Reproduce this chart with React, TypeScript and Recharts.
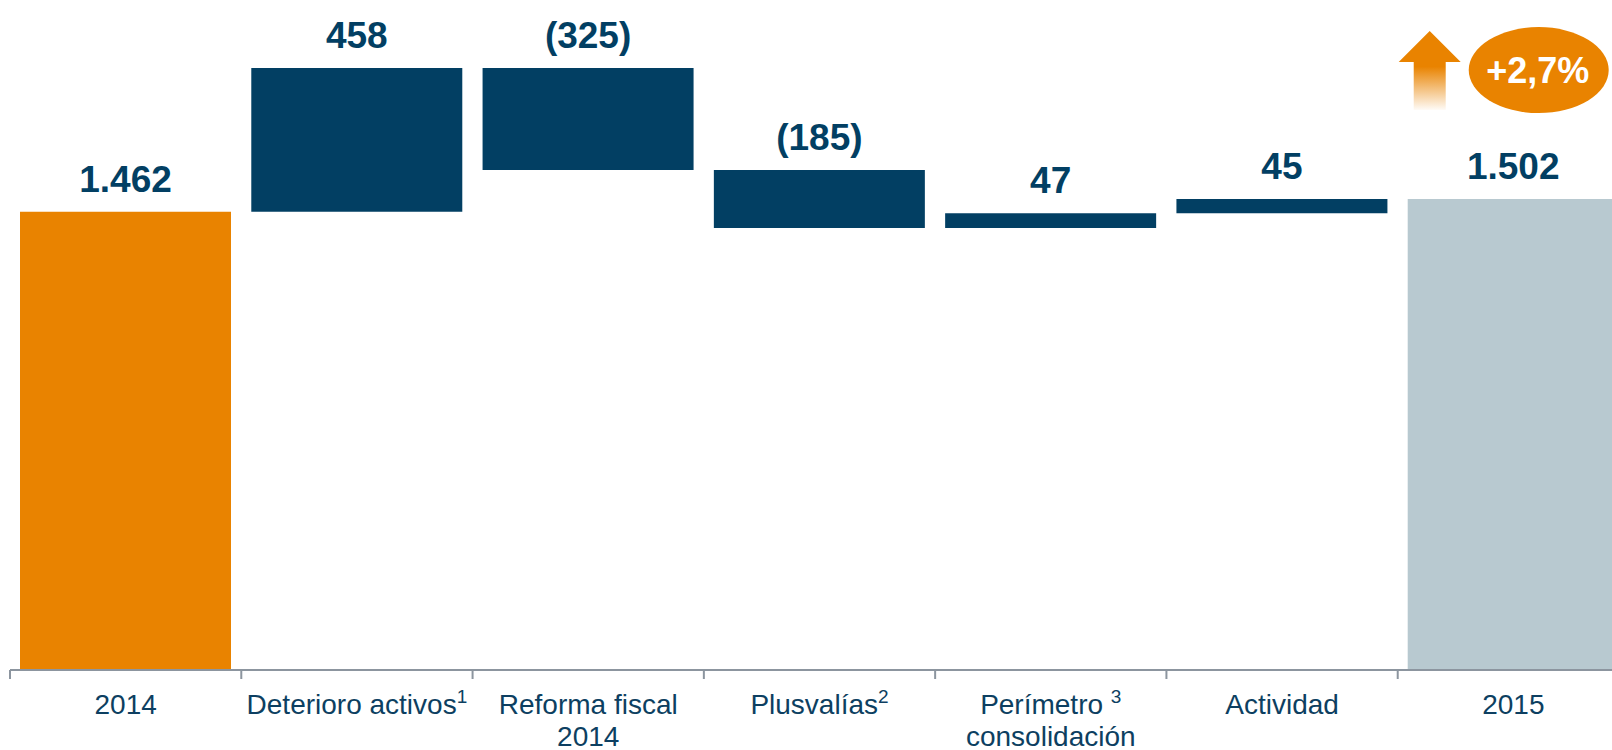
import { BarChart, Bar, XAxis, YAxis, Cell, LabelList } from "recharts";

const categories = [
  "2014",
  "Deterioro activos",
  "Reforma fiscal 2014",
  "Plusvalías",
  "Perímetro consolidación",
  "Actividad",
  "2015",
];
// first and last are totals, the rest are changes
const values = [1462, 458, -325, -185, 47, 45, 1502];
const valueLabels = ["1.462", "458", "(325)", "(185)", "47", "45", "1.502"];
const tickLines = [
  ["2014"],
  ["Deterioro activos"],
  ["Reforma fiscal", "2014"],
  ["Plusvalías"],
  ["Perímetro", "consolidación"],
  ["Actividad"],
  ["2015"],
];
const notes = ["", "1", "", "2", "3", "", ""];
const noteGap = ["", "", "", "", " ", "", ""];
const growthLabel = "+2,7%";

const NAVY = "#023F63";
const ORANGE = "#E98300";
const GREY = "#B8C9D0";
const AXIS = "#8C959F";
const FONT = "'Liberation Sans', Arial, Helvetica, sans-serif";

const CHART_W = 1629;
const CHART_H = 750;
const AXIS_H = 30;
const MARGIN = { top: 43, right: 0, left: 10, bottom: 80 - AXIS_H };
const BAND = (CHART_W - MARGIN.left - MARGIN.right) / categories.length;
const PLOT_BOTTOM = CHART_H - MARGIN.bottom - AXIS_H;

const rows = (() => {
  let running = 0;
  return categories.map((name, i) => {
    const isTotal = i === 0 || i === categories.length - 1;
    let range: [number, number];
    if (isTotal) {
      range = [0, values[i]];
      running = values[i];
    } else {
      const next = running + values[i];
      range = [Math.min(running, next), Math.max(running, next)];
      running = next;
    }
    return { name, range, label: valueLabels[i] };
  });
})();

const colors = categories.map((_, i) =>
  i === 0 ? ORANGE : i === categories.length - 1 ? GREY : NAVY
);

const CategoryTick = (props: any) => {
  const { x, payload } = props;
  const i = payload.index;
  const lines = tickLines[i] || [payload.value];
  const left = x - BAND / 2;
  return (
    <g>
      <line
        x1={left}
        x2={left}
        y1={PLOT_BOTTOM}
        y2={PLOT_BOTTOM + 9}
        stroke={AXIS}
        strokeWidth={2}
      />
      {lines.map((ln, j) => (
        <text
          key={j}
          x={x}
          y={PLOT_BOTTOM + 44 + j * 32}
          textAnchor="middle"
          fill="#0D3F61"
          fontFamily={FONT}
          fontSize={28}
        >
          {ln}
          {j === 0 && notes[i] ? (
            <>
              {noteGap[i]}
              <tspan fontSize={19} dy={-11}>
                {notes[i]}
              </tspan>
            </>
          ) : null}
        </text>
      ))}
    </g>
  );
};

const ValueLabel = (props: any) => {
  const { x, y, width, value, index } = props;
  const cx = x + width / 2;
  const isLast =
    index === categories.length - 1 ||
    value === valueLabels[valueLabels.length - 1];
  return (
    <g>
      <text
        x={cx}
        y={y - 20}
        textAnchor="middle"
        fill={NAVY}
        fontFamily={FONT}
        fontWeight="bold"
        fontSize={37}
      >
        {value}
      </text>
      {isLast ? (
        <g>
          <defs>
            <linearGradient id="arrowFade" x1="0" y1="0" x2="0" y2="1">
              <stop offset="0%" stopColor={ORANGE} stopOpacity={1} />
              <stop offset="45%" stopColor={ORANGE} stopOpacity={1} />
              <stop offset="100%" stopColor={ORANGE} stopOpacity={0.03} />
            </linearGradient>
          </defs>
          <path
            d={`M ${x + 22} ${y - 168} L ${x + 53} ${y - 137} L ${x + 38} ${
              y - 137
            } L ${x + 38} ${y - 89} L ${x + 6} ${y - 89} L ${x + 6} ${
              y - 137
            } L ${x - 9} ${y - 137} Z`}
            fill="url(#arrowFade)"
          />
          <ellipse cx={x + 131} cy={y - 129} rx={70} ry={43} fill={ORANGE} />
          <text
            x={x + 130}
            y={y - 116}
            textAnchor="middle"
            fill="#FFFFFF"
            fontFamily={FONT}
            fontWeight="bold"
            fontSize={36}
          >
            {growthLabel}
          </text>
        </g>
      ) : null}
    </g>
  );
};

export default function App() {
  return (
    <div style={{ width: 1612, height: 750, overflow: "hidden", background: "#fff" }}>
      <style>{"body{margin:0;overflow:hidden;}"}</style>
      <BarChart
        width={CHART_W}
        height={CHART_H}
        data={rows}
        margin={MARGIN}
        barCategoryGap={10}
      >
        <XAxis
          dataKey="name"
          interval={0}
          height={AXIS_H}
          axisLine={{ stroke: AXIS, strokeWidth: 2 }}
          tickLine={false}
          tick={<CategoryTick />}
        />
        <YAxis hide domain={[0, 2000]} />
        <Bar dataKey="range" isAnimationActive={false}>
          {rows.map((r, i) => (
            <Cell key={r.name} fill={colors[i]} />
          ))}
          <LabelList dataKey="label" content={<ValueLabel />} />
        </Bar>
      </BarChart>
    </div>
  );
}
